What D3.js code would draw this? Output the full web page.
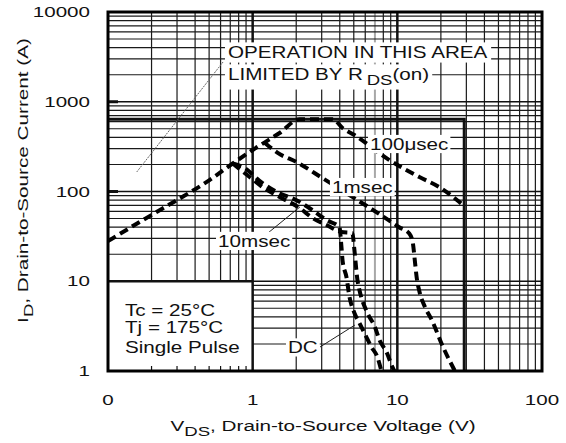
<!DOCTYPE html>
<html><head><meta charset="utf-8">
<script src="https://cdn.jsdelivr.net/npm/d3@7"></script>
<style>
body{margin:0;background:#fff;}
svg{display:block;}
text{font-family:"Liberation Sans",Arial,Helvetica,sans-serif;fill:#111;}
</style>
</head><body><svg id="c" width="566" height="443"></svg>
<script>
// ---------- data ----------
const xTickValues = [0.1, 1, 10, 100];
const xTickLabels = ["0", "1", "10", "100"];
const yTickValues = [1, 10, 100, 1000, 10000];
const yTickLabels = ["1", "10", "100", "1000", "10000"];

// R_DS(on) limit line continuing into the 100 µs curve
const v100us = [0.1, 0.174, 0.299, 0.482, 0.728, 1.0, 1.535, 2.11, 3.57, 4.18, 5.05, 8.81, 14.2, 19.5, 29];
const i100us = [28, 48, 80, 128, 205, 290, 449, 640, 640, 510, 426, 224, 145, 112, 69];

const v1ms = [1.21, 1.49, 2.01, 3.04, 4.89, 7.52, 10.3, 12.1, 12.8, 13.2, 13.6, 14.3, 15.5, 17.3, 20.7, 25];
const i1ms = [350, 269, 213, 141, 87, 56, 40, 34, 26.7, 17.2, 11.1, 7.4, 5.2, 3.7, 1.85, 1];

const v10ms = [0.728, 0.953, 1.17, 1.535, 2.11, 2.59, 3.24, 4.11, 4.89, 5.05, 5.30, 5.47, 6.21, 7.0, 7.52, 8.47, 9.24, 9.53];
const i10ms = [205, 145, 112, 87, 65.5, 50.7, 42.3, 35.4, 34.5, 22.3, 10.3, 8.0, 4.43, 3.09, 2.22, 1.59, 1.11, 1];

const vDC = [0.728, 0.853, 1.17, 1.46, 2.01, 2.59, 3.24, 3.98, 4.11, 4.18, 4.45, 4.67, 5.05, 5.47, 6.11, 6.62, 7.28, 7.76];
const iDC = [205, 188, 124, 99, 80, 62, 48, 40, 24, 17.2, 11.1, 6.7, 4.43, 3.43, 2.39, 1.85, 1.43, 1];

// package current limit box
const limitI = 640;
const limitV = 29;

// curve labels
const noteTexts = ["100μsec", "1msec", "10msec", "DC"];
const noteV = [6.47, 3.53, 0.576, 1.754];
const noteI = [338, 112, 28.1, 1.83];

// leader lines [V1, I1, V2, I2]
const leaders = [
  [0.624, 2773, 0.158, 165, "op"],
  [1.276, 34.5, 2.12, 67.2, "n"],
  [2.92, 1.85, 5.09, 3.25, "n"]
];

// operation note
const opLine1 = "OPERATION IN THIS AREA";
const opV = 0.675;
const opI = [3538, 2012];

// condition note
const condTexts = ["Tc = 25°C", "Tj = 175°C", "Single Pulse"];
const condV = 0.131;
const condI = [4.78, 3.05, 1.83];

// ---------- layout ----------
const W = 566, H = 443;
const m = {l: 108, r: 24, t: 12, b: 72};
const x = d3.scaleLog().domain([0.1, 100]).range([m.l, W - m.r]);
const y = d3.scaleLog().domain([1, 10000]).range([H - m.b, m.t]);
const svg = d3.select("#c");

const ANN = {size: 16, sx: 1.29};
const TICK = {size: 14.5, sx: 1.42};
const TITLE = {size: 15, sx: 1.38};

// ---------- grid ----------
const minorX = [], minorY = [];
[0.1, 1, 10].forEach(d => { for (let k = 2; k <= 9; k++) minorX.push(d * k); });
[1, 10, 100, 1000].forEach(d => { for (let k = 2; k <= 9; k++) minorY.push(d * k); });

const grid = svg.append("g");
grid.selectAll("line.mx").data(minorX).join("line")
  .attr("x1", d => x(d)).attr("x2", d => x(d))
  .attr("y1", y(10000)).attr("y2", y(1))
  .attr("stroke", d => Math.abs(d - 7) < 1e-9 ? "#a8a8a8" : "#1a1a1a")
  .attr("stroke-width", d => Math.abs(d - 7) < 1e-9 ? 2 : 1.2);
grid.selectAll("line.my").data(minorY).join("line")
  .attr("x1", x(0.1)).attr("x2", x(100))
  .attr("y1", d => y(d)).attr("y2", d => y(d))
  .attr("stroke", "#1a1a1a").attr("stroke-width", 1.2);
grid.selectAll("line.hy").data([10, 100, 1000]).join("line")
  .attr("x1", x(0.1)).attr("x2", x(100))
  .attr("y1", d => y(d)).attr("y2", d => y(d))
  .attr("stroke", "#111").attr("stroke-width", 1.5);

// condition box (covers grid in lower-left)
svg.append("rect")
  .attr("x", x(0.1)).attr("y", y(10))
  .attr("width", x(1) - x(0.1)).attr("height", y(1) - y(10))
  .attr("fill", "#fff");
svg.append("line").attr("x1", x(0.1)).attr("x2", x(1)).attr("y1", y(10)).attr("y2", y(10))
  .attr("stroke", "#111").attr("stroke-width", 2.5);

// vertical decade lines
svg.selectAll("line.vx").data([1, 10]).join("line")
  .attr("x1", d => x(d)).attr("x2", d => x(d))
  .attr("y1", y(10000)).attr("y2", y(1))
  .attr("stroke", "#111").attr("stroke-width", 2.5);

// bottom minor ticks in first decade
svg.selectAll("line.bt").data(minorX.filter(d => d < 1)).join("line")
  .attr("x1", d => x(d)).attr("x2", d => x(d))
  .attr("y1", y(1)).attr("y2", y(1) - 5)
  .attr("stroke", "#111").attr("stroke-width", 1.2);
// left decade ticks
svg.selectAll("line.lt").data([100, 1000]).join("line")
  .attr("x1", x(0.1)).attr("x2", x(0.1) + 10)
  .attr("y1", d => y(d)).attr("y2", d => y(d))
  .attr("stroke", "#111").attr("stroke-width", 3);

// package limit box
svg.append("path")
  .attr("d", `M${x(0.1)},${y(limitI)}H${x(limitV)}V${y(1)}`)
  .attr("fill", "none").attr("stroke", "#111").attr("stroke-width", 3);

// ---------- curves ----------
const line = d3.line().x(d => x(d[0])).y(d => y(d[1])).curve(d3.curveMonotoneX);
const series = [[v100us, i100us], [v1ms, i1ms], [v10ms, i10ms], [vDC, iDC]];
svg.append("g").selectAll("path").data(series).join("path")
  .attr("d", s => line(s[0].map((v, i) => [v, s[1][i]])))
  .attr("fill", "none").attr("stroke", "#000").attr("stroke-width", 4)
  .attr("stroke-dasharray", "9,5");

// ---------- leader lines ----------
svg.append("g").selectAll("line").data(leaders).join("line")
  .attr("x1", d => x(d[0])).attr("y1", d => y(d[1]))
  .attr("x2", d => x(d[2])).attr("y2", d => y(d[3]))
  .attr("stroke", d => d[4] === "op" ? "#666" : "#222")
  .attr("stroke-width", 1)
  .attr("stroke-dasharray", d => d[4] === "op" ? "2,1" : null);

// ---------- text helper ----------
function addText(parent, px, py, parts, o) {
  const g = parent.append("g")
    .attr("transform", `translate(${px},${py})${o.rot ? ` rotate(${o.rot})` : ""} scale(${o.sx},1)`);
  const t = g.append("text")
    .attr("font-size", o.size)
    .attr("text-anchor", o.anchor || "start")
    .attr("dy", o.dy === undefined ? "0.35em" : o.dy);
  parts.forEach(p => {
    const ts = t.append("tspan").text(p[0]);
    if (p[1] === "sub") ts.attr("font-size", o.size * 0.9).attr("dy", 5).attr("dx", p[2] || 0);
    else if (p[1] === "back") ts.attr("dy", -5);
  });
  if (o.bg) {
    const bb = t.node().getBBox();
    const px2 = (o.padX || 3) / o.sx;
    g.insert("rect", "text")
      .attr("x", bb.x - px2).attr("y", bb.y - (o.padY || 0))
      .attr("width", bb.width + 2 * px2).attr("height", bb.height + 2 * (o.padY || 0))
      .attr("fill", "#fff");
  }
  return g;
}

const txt = svg.append("g");

// curve labels
noteTexts.forEach((s, i) => {
  addText(txt, x(noteV[i]), y(noteI[i]), [[s]], {...ANN, bg: true, padX: 2, padY: 0});
});

// operation note
addText(txt, x(opV), y(opI[0]), [[opLine1]], {...ANN, bg: true, padX: 3, padY: 1});
addText(txt, x(opV), y(opI[1]), [["LIMITED BY R"], ["DS", "sub", 3], ["(on)", "back"]], {...ANN, bg: true, padX: 3, padY: 1});

// conditions
condTexts.forEach((s, i) => {
  addText(txt, x(condV), y(condI[i]), [[s]], ANN);
});

// ---------- border ----------
svg.append("rect")
  .attr("x", x(0.1)).attr("y", y(10000))
  .attr("width", x(100) - x(0.1)).attr("height", y(1) - y(10000))
  .attr("fill", "none").attr("stroke", "#000").attr("stroke-width", 3);

// ---------- tick labels ----------
yTickValues.forEach((v, i) => {
  addText(svg, x(0.1) - 18, y(v), [[yTickLabels[i]]], {...TICK, anchor: "end"});
});
xTickValues.forEach((v, i) => {
  addText(svg, x(v), y(1) + 34, [[xTickLabels[i]]], {...TICK, anchor: "middle", dy: 0});
});

// ---------- axis titles ----------
addText(svg, (x(0.1) + x(100)) / 2 - 2, y(1) + 59.5,
  [["V"], ["DS", "sub"], [", Drain-to-Source Voltage (V)", "back"]],
  {...TITLE, anchor: "middle", dy: 0});
addText(svg, 27.5, 180.5,
  [["I"], ["D", "sub"], [", Drain-to-Source Current (A)", "back"]],
  {...TITLE, anchor: "middle", dy: 0, rot: -90});
</script>
</body></html>
